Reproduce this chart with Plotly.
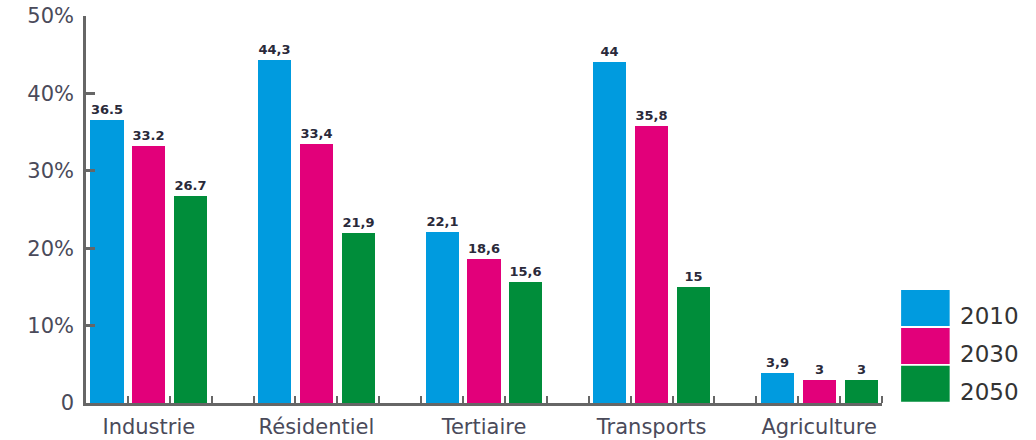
import plotly.graph_objects as go

categories = ["Industrie", "Résidentiel", "Tertiaire", "Transports", "Agriculture"]
years = ["2010", "2030", "2050"]
values_2010 = [36.5, 44.3, 22.1, 44.0, 3.9]
values_2030 = [33.2, 33.4, 18.6, 35.8, 3.0]
values_2050 = [26.7, 21.9, 15.6, 15.0, 3.0]
labels_2010 = ["36.5", "44,3", "22,1", "44", "3,9"]
labels_2030 = ["33.2", "33,4", "18,6", "35,8", "3"]
labels_2050 = ["26.7", "21,9", "15,6", "15", "3"]
y_tickvals = [0, 10, 20, 30, 40, 50]
y_ticktext = ["0", "10%", "20%", "30%", "40%", "50%"]
colors = ["#009BDF", "#E2007A", "#008D3A"]

series = [values_2010, values_2030, values_2050]
series_labels = [labels_2010, labels_2030, labels_2050]

slots_per_group = len(years) + 1
n_slots = slots_per_group * len(categories) - 1

FONT = "DejaVu Sans"

fig = go.Figure()
for i, (yr, vals, labs) in enumerate(zip(years, series, series_labels)):
    xs = [g * slots_per_group + i for g in range(len(categories))]
    fig.add_trace(go.Bar(
        x=xs, y=vals, name=yr, text=labs, textposition="outside",
        textfont=dict(family=FONT, size=13, color="#2a2a3a", weight="bold"),
        marker=dict(color=colors[i], line=dict(width=0)),
        width=0.79, cliponaxis=False, showlegend=False,
    ))

group_centers = [g * slots_per_group + 1 for g in range(len(categories))]
boundaries = [k + 0.5 for k in range(n_slots)]

fig.update_layout(
    width=1036, height=440,
    margin=dict(l=86, r=154, t=16, b=37),
    plot_bgcolor="white", paper_bgcolor="white",
    bargap=0, barmode="overlay",
    xaxis=dict(
        range=[-0.5, n_slots - 0.5], showgrid=False, zeroline=False,
        automargin=False,
        showline=True, linecolor="#666666", linewidth=2.5,
        tickmode="array", tickvals=group_centers, ticktext=categories,
        ticks="", tickfont=dict(family=FONT, size=21, color="#4a4a5a"),
        minor=dict(tickmode="array", tickvals=boundaries, ticks="inside",
                   ticklen=7, tickwidth=2, tickcolor="#666666", showgrid=False),
        ticklabelstandoff=3,
    ),
    yaxis=dict(
        range=[0, 50], showgrid=False, zeroline=False,
        automargin=False,
        showline=True, linecolor="#666666", linewidth=2.5,
        tickmode="array", tickvals=y_tickvals, ticktext=y_ticktext,
        ticks="inside", ticklen=9, tickwidth=2.5, tickcolor="#666666",
        tickfont=dict(family=FONT, size=21, color="#4a4a5a"),
        ticklabelstandoff=5,
    ),
)

# legend swatches (large squares like the reference)
sw_x0, sw_x1 = 1.024, 1.085
sw_h = 0.093
sw_gap = 0.005
for i, yr in enumerate(years):
    top = 0.292 - i * (sw_h + sw_gap)
    fig.add_shape(type="rect", xref="paper", yref="paper",
                  x0=sw_x0, x1=sw_x1, y0=top - sw_h, y1=top,
                  fillcolor=colors[i], line=dict(width=0))
    fig.add_annotation(xref="paper", yref="paper", x=1.095, y=top - sw_h / 2 - 0.02,
                       text=yr, showarrow=False, xanchor="left", yanchor="middle",
                       font=dict(family=FONT, size=23, color="#333333"))

fig.write_html("out.html")
